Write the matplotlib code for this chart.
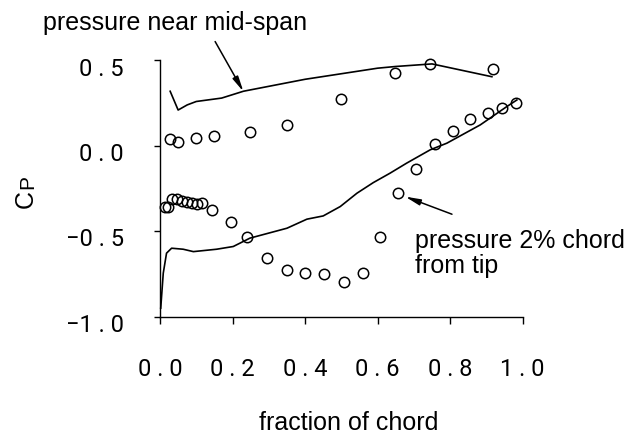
import matplotlib
matplotlib.use("Agg")
import matplotlib.pyplot as plt
from matplotlib.transforms import ScaledTranslation

# ---- data ----
mid_line_x = [0.028, 0.05, 0.075, 0.10, 0.17, 0.23, 0.40, 0.60, 0.65, 0.75, 0.915]
mid_line_cp = [0.32, 0.21, 0.24, 0.26, 0.28, 0.32, 0.39, 0.455, 0.465, 0.48, 0.405]

mid_pts_x = [0.028, 0.05, 0.098, 0.149, 0.248, 0.349, 0.498, 0.647, 0.745, 0.917]
mid_pts_cp = [0.039, 0.02, 0.049, 0.059, 0.084, 0.123, 0.275, 0.425, 0.478, 0.449]

tip_line_x = [0.002, 0.009, 0.018, 0.032, 0.064, 0.092, 0.156, 0.202, 0.248, 0.35,
              0.405, 0.45, 0.497, 0.543, 0.588, 0.634, 0.68, 0.745, 0.791, 0.883,
              0.956, 0.984]
tip_line_cp = [-0.95, -0.745, -0.628, -0.599, -0.605, -0.619, -0.605, -0.589, -0.54,
               -0.482, -0.429, -0.41, -0.355, -0.277, -0.215, -0.16, -0.101, -0.023,
               0.016, 0.123, 0.23, 0.269]

tip_pts_x = [0.014, 0.021, 0.032, 0.046, 0.06, 0.074, 0.087, 0.101, 0.115, 0.142,
             0.195, 0.241, 0.296, 0.349, 0.40, 0.452, 0.506, 0.561, 0.607, 0.657,
             0.706, 0.759, 0.807, 0.855, 0.904, 0.943, 0.982]
tip_pts_cp = [-0.359, -0.355, -0.312, -0.312, -0.32, -0.326, -0.336, -0.34, -0.336,
              -0.373, -0.443, -0.535, -0.654, -0.726, -0.745, -0.751, -0.796, -0.742,
              -0.531, -0.277, -0.137, 0.012, 0.09, 0.156, 0.195, 0.22, 0.254]

x_ticks = [0.0, 0.2, 0.4, 0.6, 0.8, 1.0]
x_tick_labels = ["0.0", "0.2", "0.4", "0.6", "0.8", "1.0"]
y_ticks = [-1.0, -0.5, 0.0, 0.5]
y_tick_labels = ["\u22121.0", "\u22120.5", "0.0", "0.5"]


def spaced(s):
    # wide, typewriter-like spacing of the original tick labels
    return s.replace(".", " . ")


W, H = 631, 434
fig = plt.figure(figsize=(W / 100, H / 100), dpi=100)
ax = fig.add_axes([160 / W, 1 - 316.7 / H, (522.7 - 160) / W, (316.7 - 60.5) / H])

ax.plot(mid_line_x, mid_line_cp, color="black", lw=1.2, clip_on=False)
ax.plot(tip_line_x, tip_line_cp, color="black", lw=1.2, clip_on=False)
ax.plot(mid_pts_x, mid_pts_cp, linestyle="none", marker="o", ms=7.5,
        mfc="none", mec="black", mew=1.1, clip_on=False)
ax.plot(tip_pts_x, tip_pts_cp, linestyle="none", marker="o", ms=7.5,
        mfc="none", mec="black", mew=1.1, clip_on=False)

ax.set_xlim(0, 1.0)
ax.set_ylim(-1.0, 0.5)
for s in ["top", "right"]:
    ax.spines[s].set_visible(False)
for s in ["left", "bottom"]:
    ax.spines[s].set_linewidth(1.0)

tick_font = dict(family=["Roboto", "DejaVu Sans"], size=17, color="black")
ax.set_xticks(x_ticks)
ax.set_xticklabels([spaced(t) for t in x_tick_labels], **tick_font)
ax.set_yticks(y_ticks)
ax.set_yticklabels([spaced(t) for t in y_tick_labels], **tick_font)
ax.tick_params(axis="x", direction="out", length=5, width=1.0, pad=25)
ax.tick_params(axis="y", direction="out", length=4, width=1.0, pad=22)
for lab in ax.get_yticklabels():
    lab.set_transform(lab.get_transform() + ScaledTranslation(0, -6 / 100, fig.dpi_scale_trans))

lab_font = dict(family=["Liberation Sans", "DejaVu Sans"], size=18)
# y-axis label "CP" (P as a smaller capital)
fig.text(33 / W, 1 - 208 / H, "C", rotation=90, rotation_mode="anchor",
         ha="left", va="baseline", **lab_font)
fig.text(33 / W, 1 - 189 / H, "P", rotation=90, rotation_mode="anchor",
         ha="left", va="baseline", family=["Liberation Sans", "DejaVu Sans"], size=15)
fig.text(349 / W, 1 - 430 / H, "fraction of chord", ha="center", va="baseline", **lab_font)
fig.text(43 / W, 1 - 30 / H, "pressure near mid-span", ha="left", va="baseline", **lab_font)
fig.text(415 / W, 1 - 248 / H, "pressure 2% chord", ha="left", va="baseline", **lab_font)
fig.text(415 / W, 1 - 273 / H, "from tip", ha="left", va="baseline", **lab_font)

arrow = dict(arrowstyle="-|>,head_length=0.9,head_width=0.18", color="black",
             lw=1.1, shrinkA=0, shrinkB=0)
ax.annotate("", xy=(0.23, 0.318), xytext=(0.152, 0.611), arrowprops=arrow,
            annotation_clip=False)
ax.annotate("", xy=(0.676, -0.297), xytext=(0.805, -0.40), arrowprops=arrow,
            annotation_clip=False)

fig.savefig("out.png", dpi=100)
